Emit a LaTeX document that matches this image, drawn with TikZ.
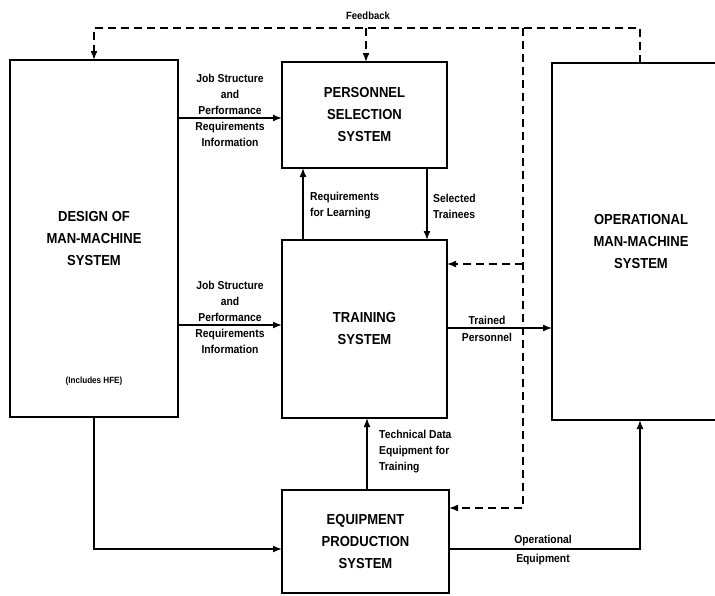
\documentclass[tikz,border=0pt]{standalone}
\usepackage{fontspec}
\setmainfont{Liberation Sans}[FakeStretch=0.9]
\usetikzlibrary{arrows.meta}
\begin{document}
\begin{tikzpicture}[x=1pt,y=-1pt,
  box/.style={draw, line width=2pt, inner sep=0pt, outer sep=0pt, align=center,
    font=\bfseries\fontsize{14.5}{22}\selectfont},
  lbl/.style={font=\bfseries\fontsize{11.5}{16}\selectfont, inner sep=1pt, align=center},
  tiny/.style={font=\bfseries\fontsize{9}{10}\selectfont, inner sep=0pt},
  conn/.style={line width=1.6pt, -{Latex[length=9pt,width=7pt]}},
  fb/.style={conn, dash pattern=on 8pt off 5pt}]
\useasboundingbox (0,0) rectangle (715,595);
\clip (0,0) rectangle (715,595);
% boxes
\node[box, minimum width=168pt, minimum height=357pt] (design) at (94,238.5) {DESIGN OF\\MAN-MACHINE\\SYSTEM};
\node[tiny] (hfe) at (94,381) {(Includes HFE)};
\node[box, minimum width=165pt, minimum height=106pt] (personnel) at (364.5,115) {PERSONNEL\\SELECTION\\SYSTEM};
\node[box, minimum width=165pt, minimum height=178pt] (training) at (364.5,329) {TRAINING\\SYSTEM};
\node[box, minimum width=178pt, minimum height=357pt] (ops) at (641,241.5) {OPERATIONAL\\MAN-MACHINE\\SYSTEM};
\node[box, minimum width=167pt, minimum height=103pt] (equip) at (365.5,541.5) {EQUIPMENT\\PRODUCTION\\SYSTEM};
% helper coordinates
\coordinate (fbL) at (94,28);
\coordinate (fbM) at (366,28);
\coordinate (fbV) at (523,28);
\coordinate (fbR) at (640,28);
\coordinate (vT) at (523,264);
\coordinate (vB) at (523,508);
\coordinate (r1) at (0,118);
\coordinate (r2) at (0,325);
\coordinate (r3) at (0,328);
\coordinate (r4) at (0,549);
\coordinate (c1) at (303,0);
\coordinate (c2) at (427,0);
\coordinate (c3) at (367,0);
\coordinate (c4) at (94,0);
\coordinate (c5) at (640,0);
% feedback (dashed)
\draw[fb] (ops.north -| fbR) -- (fbR) -- (fbL) -- (design.north -| fbL);
\draw[fb] (fbM) -- (personnel.north -| fbM);
\draw[fb] (fbV) -- (vB) -- (equip.east |- vB);
\draw[fb] (vT) -- (training.east |- vT);
% solid connectors
\draw[conn] (design.east |- r1) -- (personnel.west |- r1);
\draw[conn] (design.east |- r2) -- (training.west |- r2);
\draw[conn] (training.north -| c1) -- (personnel.south -| c1);
\draw[conn] (personnel.south -| c2) -- (training.north -| c2);
\draw[conn] (training.east |- r3) -- (ops.west |- r3);
\draw[conn] (equip.north -| c3) -- (training.south -| c3);
\draw[conn] (design.south -| c4) |- (equip.west |- r4);
\draw[conn] (equip.east |- r4) -| (ops.south -| c5);
% labels
\node[lbl, font=\bfseries\fontsize{10.5}{12}\selectfont] (fbk) at (368,16) {Feedback};
\node[lbl, anchor=south] (l1a) at (230,116) {Job Structure\\and\\Performance};
\node[lbl, anchor=north] (l1b) at (230,121) {Requirements\\Information};
\node[lbl, anchor=south] (l2a) at (230,323) {Job Structure\\and\\Performance};
\node[lbl, anchor=north] (l2b) at (230,328) {Requirements\\Information};
\node[lbl, anchor=west, align=left] (l3) at (309,206) {Requirements\\for Learning};
\node[lbl, anchor=west, align=left] (l4) at (432,206) {Selected\\Trainees};
\node[lbl, anchor=south] (l5a) at (487,326) {Trained};
\node[lbl, anchor=north] (l5b) at (487,332) {Personnel};
\node[lbl, anchor=north west, align=left] (l6) at (378,429) {Technical Data\\Equipment for\\Training};
\node[lbl, anchor=south] (l7a) at (543,547) {Operational};
\node[lbl, anchor=north] (l7b) at (543,553) {Equipment};
\end{tikzpicture}
\end{document}
